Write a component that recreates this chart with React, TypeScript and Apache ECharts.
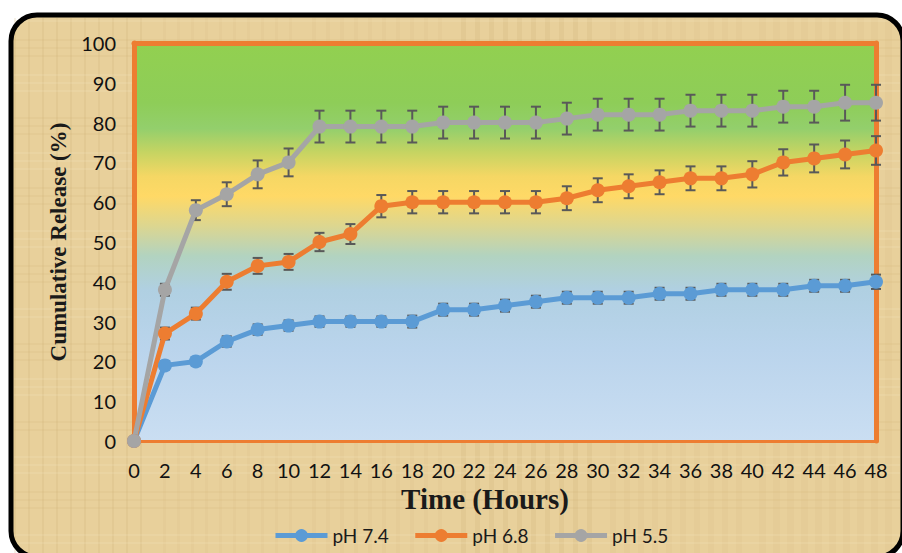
import React, { useEffect, useRef } from "react";
import * as echarts from "echarts";

// Sampling times (hours)
const hours: string[] = [
  "0", "2", "4", "6", "8", "10", "12", "14", "16", "18", "20", "22", "24",
  "26", "28", "30", "32", "34", "36", "38", "40", "42", "44", "46", "48",
];

// Cumulative release (%) per medium
const ph74: number[] = [0, 19, 20, 25, 28, 29, 30, 30, 30, 30, 33, 33, 34, 35, 36, 36, 36, 37, 37, 38, 38, 38, 39, 39, 40];
const ph68: number[] = [0, 27, 32, 40, 44, 45, 50, 52, 59, 60, 60, 60, 60, 60, 61, 63, 64, 65, 66, 66, 67, 70, 71, 72, 73];
const ph55: number[] = [0, 38, 58, 62, 67, 70, 79, 79, 79, 79, 80, 80, 80, 80, 81, 82, 82, 82, 83, 83, 83, 84, 84, 85, 85];

// Standard deviations (±)
const ph74Err: number[] = [0, 1, 1, 1.3, 1.3, 1.3, 1.3, 1.3, 1.3, 1.5, 1.5, 1.5, 1.5, 1.5, 1.5, 1.5, 1.5, 1.5, 1.5, 1.5, 1.5, 1.5, 1.5, 1.5, 1.8];
const ph68Err: number[] = [0, 1.5, 1.5, 2, 2, 2, 2.3, 2.5, 2.8, 2.8, 2.8, 2.8, 2.8, 2.8, 3, 3, 3, 3, 3, 3, 3.3, 3.3, 3.5, 3.5, 3.6];
const ph55Err: number[] = [0, 1.5, 2.5, 3, 3.5, 3.5, 4, 4, 4, 4, 4, 4, 4, 4, 4, 4, 4, 4, 4, 4, 4, 4, 4, 4.5, 4.5];

const seriesNames: string[] = ["pH 7.4", "pH 6.8", "pH 5.5"];
const seriesColors: string[] = ["#5b9bd5", "#ed7d31", "#a5a5a5"];

const FONT = "Lato, 'Open Sans', sans-serif";
const SERIF = "'Liberation Serif', 'DejaVu Serif', serif";
const ORANGE = "#ed7d31";
const BACK = -20;

function papyrusTexture(): any[] {
  // faint fibre streaks over the parchment fill
  const items: any[] = [];
  for (let i = 0; i < 60; i++) {
    const x = 14 + ((i * 149) % 880);
    const w = 2 + ((i * 7) % 6);
    items.push({
      type: "rect",
      z: BACK,
      silent: true,
      shape: { x, y: 18, width: w, height: 536 },
      style: { fill: i % 3 === 0 ? "#c9a968" : "#d8bd80", opacity: 0.16 },
    });
  }
  for (let i = 0; i < 40; i++) {
    const y = 20 + ((i * 113) % 530);
    const h = 2 + ((i * 5) % 5);
    items.push({
      type: "rect",
      z: BACK,
      silent: true,
      shape: { x: 14, y, width: 886, height: h },
      style: { fill: i % 2 === 0 ? "#f6e6bd" : "#d6ba7c", opacity: 0.2 },
    });
  }
  return items;
}

function errorSeries(name: string, values: number[], errs: number[]) {
  return {
    type: "custom",
    name: name + " SD",
    z: 2,
    silent: true,
    data: values.map((v, i) => [i, v, errs[i]]),
    encode: { x: 0, y: 1 },
    renderItem: (_params: any, api: any) => {
      const x = api.value(0);
      const v = api.value(1);
      const e = api.value(2);
      if (!e) return null;
      const top = api.coord([x, v + e]);
      const bot = api.coord([x, v - e]);
      const cap = 5;
      const style = { stroke: "#595959", lineWidth: 2 };
      return {
        type: "group",
        children: [
          { type: "line", shape: { x1: top[0], y1: top[1], x2: bot[0], y2: bot[1] }, style },
          { type: "line", shape: { x1: top[0] - cap, y1: top[1], x2: top[0] + cap, y2: top[1] }, style },
          { type: "line", shape: { x1: bot[0] - cap, y1: bot[1], x2: bot[0] + cap, y2: bot[1] }, style },
        ],
      };
    },
  };
}

function lineSeries(name: string, values: number[], color: string) {
  return {
    type: "line",
    name,
    z: 3,
    data: values,
    symbol: "circle",
    symbolSize: 14,
    lineStyle: { color, width: 5 },
    itemStyle: { color },
  };
}

export default function App() {
  const ref = useRef<HTMLDivElement>(null);

  useEffect(() => {
    if (!ref.current) return;
    const chart = echarts.init(ref.current, undefined, { renderer: "svg" });

    const plotBg = new echarts.graphic.LinearGradient(0, 0, 0, 1, [
      { offset: 0, color: "#92d050" },
      { offset: 0.15, color: "#8ecd58" },
      { offset: 0.215, color: "#93cf6c" },
      { offset: 0.275, color: "#c6d462" },
      { offset: 0.335, color: "#f5d764" },
      { offset: 0.385, color: "#ffd966" },
      { offset: 0.46, color: "#dcd690" },
      { offset: 0.535, color: "#b2d3c0" },
      { offset: 0.62, color: "#b0d0e2" },
      { offset: 0.77, color: "#bad4ec" },
      { offset: 1, color: "#cadef2" },
    ]);

    chart.setOption({
      animation: false,
      backgroundColor: "#ffffff",
      graphic: [
        {
          type: "rect",
          z: BACK,
          silent: true,
          shape: { x: 11, y: 15, width: 892, height: 542, r: 26 },
          style: { fill: "#e8d09b" },
        },
        ...papyrusTexture(),
        {
          type: "rect",
          z: BACK,
          silent: true,
          shape: { x: 11, y: 15, width: 892, height: 542, r: 26 },
          style: { fill: "none", stroke: "#000000", lineWidth: 5 },
        },
        {
          type: "text",
          x: 485,
          y: 499,
          style: {
            text: "Time (Hours)",
            font: `bold 29px ${SERIF}`,
            fill: "#1a1a1a",
            textAlign: "center",
            textVerticalAlign: "middle",
          },
        },
      ],
      grid: {
        left: 134,
        right: 26,
        top: 43,
        bottom: 112,
        show: true,
        backgroundColor: plotBg,
        borderWidth: 0,
      },
      legend: {
        data: seriesNames,
        left: 268,
        top: 521,
        itemWidth: 52,
        itemHeight: 16,
        itemGap: 24,
        lineStyle: { width: 5 },
        textStyle: { fontFamily: FONT, fontSize: 19, color: "#1a1a1a" },
      },
      xAxis: [
        {
          type: "category",
          data: hours,
          boundaryGap: false,
          axisLine: { show: true, lineStyle: { color: ORANGE, width: 3 } },
          axisTick: { show: false },
          axisLabel: { fontFamily: FONT, fontSize: 20, color: "#111", margin: 19, interval: 0 },
          splitLine: { show: false },
        },
        {
          type: "category",
          data: hours,
          position: "top",
          boundaryGap: false,
          axisLine: { show: true, onZero: false, lineStyle: { color: ORANGE, width: 5 } },
          axisTick: { show: false },
          axisLabel: { show: false },
        },
      ],
      yAxis: [
        {
          type: "value",
          min: 0,
          max: 100,
          interval: 10,
          name: "Cumulative Release (%)",
          nameLocation: "middle",
          nameGap: 61,
          nameTextStyle: { fontFamily: SERIF, fontWeight: "bold", fontSize: 23, color: "#1a1a1a" },
          axisLine: { show: true, onZero: false, lineStyle: { color: ORANGE, width: 5 } },
          axisTick: { show: false },
          axisLabel: { fontFamily: FONT, fontSize: 20, color: "#111", margin: 18 },
          splitLine: { show: false },
        },
        {
          type: "value",
          min: 0,
          max: 100,
          interval: 10,
          position: "right",
          axisLine: { show: true, onZero: false, lineStyle: { color: ORANGE, width: 5 } },
          axisTick: { show: false },
          axisLabel: { show: false },
          splitLine: { show: false },
        },
      ],
      series: [
        errorSeries(seriesNames[0], ph74, ph74Err),
        errorSeries(seriesNames[1], ph68, ph68Err),
        errorSeries(seriesNames[2], ph55, ph55Err),
        lineSeries(seriesNames[0], ph74, seriesColors[0]),
        lineSeries(seriesNames[1], ph68, seriesColors[1]),
        lineSeries(seriesNames[2], ph55, seriesColors[2]),
      ],
    });

    return () => chart.dispose();
  }, []);

  return <div ref={ref} style={{ width: 902, height: 553, position: "absolute", left: 0, top: 0 }} />;
}
